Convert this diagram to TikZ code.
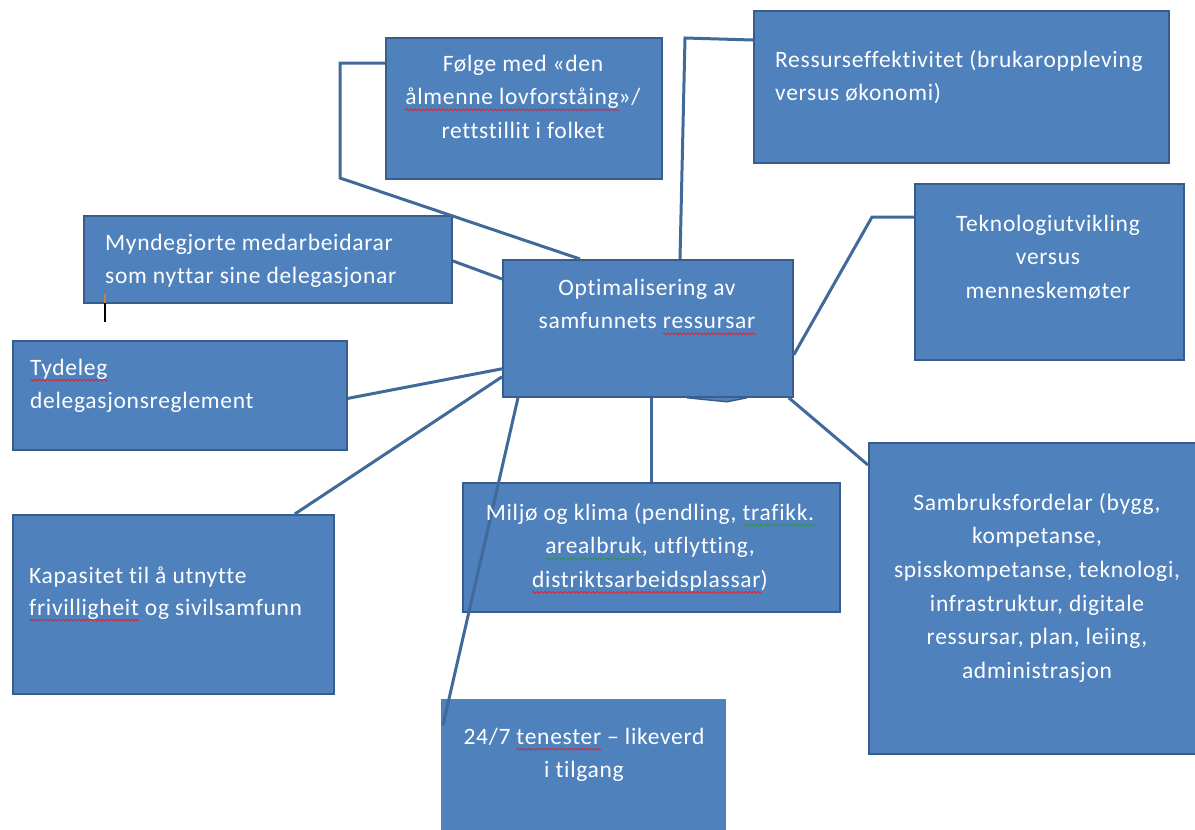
\documentclass[tikz,border=0pt]{standalone}
\usepackage{fontspec}
\setmainfont{Carlito}[LetterSpace=3,Ligatures=NoCommon]
\definecolor{boxfill}{HTML}{4F81BD}
\definecolor{boxline}{HTML}{385D8A}
\definecolor{connc}{HTML}{41699A}
\definecolor{wavered}{HTML}{E0202A}
\definecolor{wavegreen}{HTML}{2E9A2E}
\definecolor{cursortop}{HTML}{C8843C}
\newbox\wordbox
\newcommand\waveunit[1]{\tikz[x=1pt,y=1pt,baseline=0pt]{\useasboundingbox (0,-1.2) rectangle (4,1.2);\draw[#1,line width=0.7pt] (0,0) -- (1,1) -- (3,-1) -- (4,0);}}
\newcommand\wavy[2]{\leavevmode\setbox\wordbox\hbox{#2}\rlap{\lower5pt\hbox to\wd\wordbox{\xleaders\hbox{\waveunit{#1}}\hfill}}\box\wordbox}
\newcommand\redw[1]{\wavy{wavered}{#1}}
\newcommand\greenw[1]{\wavy{wavegreen}{#1}}
\newcommand\fl{\rule{0pt}{20pt}}
\tikzset{
  box/.style={draw=boxline, fill=boxfill, line width=1.8pt, inner sep=0pt, anchor=north west},
  plainbox/.style={fill=boxfill, inner sep=0pt, anchor=north west},
  conn/.style={draw=connc, line width=3pt},
  txt/.style={text=white, inner sep=0pt, font=\fontsize{23.5}{33.6}\selectfont},
  ctxt/.style={txt, align=center, anchor=north},
  ltxt/.style={txt, align=left, anchor=north west}
}
\begin{document}
\begin{tikzpicture}[x=1pt,y=-1pt]
\useasboundingbox (0,0) rectangle (1195,830);
% boxes
\node[box, minimum width=276pt, minimum height=141pt] (F) at (385,37) {};
\node[box, minimum width=415pt, minimum height=152pt] (R) at (753,10) {};
\node[box, minimum width=269pt, minimum height=176pt] (T) at (914,183) {};
\node[box, minimum width=290pt, minimum height=137pt] (C) at (502,259) {};
\node[box, minimum width=368pt, minimum height=87pt] (M) at (83,215) {};
\node[box, minimum width=334pt, minimum height=109pt] (Ty) at (12,340) {};
\node[box, minimum width=321pt, minimum height=179pt] (K) at (12,514) {};
\node[box, minimum width=377pt, minimum height=129pt] (Mi) at (462,482) {};
\node[plainbox, minimum width=285pt, minimum height=145pt] (S) at (441,699) {};
\node[box, minimum width=335pt, minimum height=311pt] (Sa) at (868,442) {};
% small kink on the bottom edge of the central box
\draw[draw=boxline, fill=boxfill, line width=1.4pt]
  ([xshift=185pt]C.south west) -- ([xshift=225pt,yshift=-4pt]C.south west) -- ([xshift=245pt]C.south west);
% connectors
\draw[conn] ([yshift=-26pt]F.north west) -- (340,63) -- (340,178) -- ([xshift=78pt]C.north west);
\draw[conn] ([xshift=178pt]C.north west) -- (685,38) -- ([yshift=-30pt]R.north west);
\draw[conn] ([yshift=43pt]C.south east) -- (872,217) -- ([yshift=-34pt]T.north west);
\draw[conn] ([yshift=-1.5pt]M.east) -- ([yshift=-20pt]C.north west);
\draw[conn] ([yshift=-3pt]Ty.east) -- ([yshift=29pt]C.south west);
\draw[conn] ([xshift=-40pt]K.north east) -- ([yshift=21pt]C.south west);
\draw[conn] ([xshift=16pt]C.south west) -- ([xshift=2pt,yshift=-26pt]S.north west);
\draw[conn] (Mi.north |- C.south) -- (Mi.north);
\draw[conn] ([xshift=-5pt]C.south east) -- ([yshift=-23pt]Sa.north west);
% texts
\node[ctxt] (tF) at (523,51) {\fl Følge med «den\\\redw{ålmenne lovforståing}»/\\rettstillit i folket};
\node[ltxt] (tR) at (775,47) {\fl Ressurseffektivitet (brukaroppleving\\versus økonomi)};
\node[ctxt] (tT) at (1048,211) {\fl Teknologiutvikling\\versus\\menneskemøter};
\node[ctxt] (tC) at (647,275) {\fl Optimalisering av\\samfunnets \redw{ressursar}};
\node[ltxt] (tM) at (105,230) {\fl Myndegjorte medarbeidarar\\som nyttar sine delegasjonar};
\node[ltxt] (tTy) at (30,355) {\fl \redw{Tydeleg}\\delegasjonsreglement};
\node[ltxt, font=\fontsize{23.5}{32}\selectfont] (tK) at (29,563) {\fl Kapasitet til å utnytte\\\redw{frivilligheit} og sivilsamfunn};
\node[ctxt] (tMi) at (650,500) {\fl Miljø og klima (pendling, \greenw{trafikk.}\\\greenw{arealbruk}, utflytting,\\\redw{distriktsarbeidsplassar})};
\node[ctxt] (tS) at (584,724) {\fl 24/7 \redw{tenester} – likeverd\\i tilgang};
\node[ctxt] (tSa) at (1037,490) {\fl Sambruksfordelar (bygg,\\kompetanse,\\spisskompetanse, teknologi,\\infrastruktur, digitale\\ressursar, plan, leiing,\\administrasjon};
% text cursor mark
\coordinate (cur0) at (105,294);
\coordinate (cur1) at (105,303);
\coordinate (cur2) at (105,322);
\draw[line width=2.4pt, cursortop] (cur0) -- (cur1);
\draw[line width=2.4pt, black] (cur1) -- (cur2);
\end{tikzpicture}
\end{document}
